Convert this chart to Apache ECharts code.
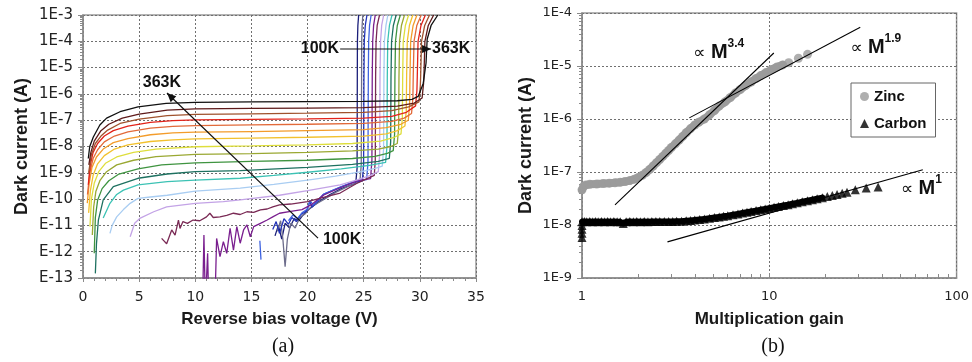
<!DOCTYPE html>
<html><head><meta charset="utf-8">
<script src="https://cdn.jsdelivr.net/npm/echarts@6/dist/echarts.min.js"></script>
<style>html,body{margin:0;padding:0;background:#fff}#c{width:972px;height:362px}</style>
</head><body><div id="c"></div>
<script>
// ================= DATA =================
// Panel (a): dark current (A) vs reverse bias voltage (V); one curve per temperature, 100K (00) ... 363K (19)
const curve00 = [[17.1,4e-12],[17.4,1e-11],[17.7,3e-12],[18.0,1.2e-11],[18.4,8e-12],[18.8,1.8e-11],[19.2,1.5e-11],[19.6,2.5e-11],[20.1,4e-11],[21,8e-11],[22,1.5e-10],[23,2.5e-10],[24.29,4e-10],[24.41,1.5e-9],[24.43,4.5e-6],[24.44,1e-4],[24.48,4e-4],[24.55,1e-3]];
const curve01 = [[17.3,6e-12],[17.6,1.5e-11],[17.8,3e-12],[18.0,2.7e-13],[18.2,3e-12],[18.5,1.2e-11],[18.9,8e-12],[19.3,2e-11],[19.8,2.8e-11],[20.3,5e-11],[21.5,1e-10],[22.5,1.8e-10],[23.7,3.2e-10],[24.66,4.5e-10],[24.78,2e-9],[24.81,4.5e-6],[24.82,1e-4],[24.86,4e-4],[24.92,1e-3]];
const curve02 = [[16.9,7e-12],[17.2,1.4e-11],[17.5,5e-12],[17.9,1.8e-11],[18.3,1.1e-11],[18.6,2e-11],[19.0,1.4e-11],[19.4,2.6e-11],[19.9,3.5e-11],[20.2,8e-11],[20.4,5e-11],[21.4,1.5e-10],[22.9,2.8e-10],[24.1,4.5e-10],[24.87,4.8e-10],[24.99,2e-9],[25.02,4.5e-6],[25.05,1e-4],[25.14,4e-4],[25.29,1e-3]];
const curve03 = [[15.75,2.6e-12],[15.85,5e-13],[15.9,'-'],[18.3,1.5e-11],[18.7,2.5e-11],[19.1,1.8e-11],[19.5,3e-11],[20.0,4.2e-11],[20.2,9e-11],[20.5,6e-11],[21.5,1.6e-10],[23.0,3e-10],[24.5,5e-10],[25.26,5.5e-10],[25.38,2.5e-9],[25.41,4.5e-6],[25.44,1e-4],[25.52,4e-4],[25.66,1e-3]];
const curve04 = [[10.65,1e-14],[10.77,4.3e-12],[10.9,1e-14],[11.05,1e-14],[11.1,8.7e-13],[11.2,1e-14],[11.75,1e-14],[11.9,3.2e-12],[12.2,6.5e-13],[12.5,2.4e-12],[12.8,8.7e-13],[13.1,7.8e-12],[13.4,1.15e-12],[13.7,9e-12],[14.0,2.1e-12],[14.3,6.7e-12],[14.6,1.05e-11],[14.9,3.7e-12],[15.2,9e-12],[15.8,1.2e-11],[16.4,1.6e-11],[16.9,2.1e-11],[17.5,2.9e-11],[18.5,3.4e-11],[19.5,4e-11],[20.3,6e-11],[21.4,1.4e-10],[22.9,2.7e-10],[24.5,5e-10],[25.61,6e-10],[25.73,3e-9],[25.76,4.5e-6],[25.8,1e-4],[25.88,4e-4],[26.03,1e-3]];
const curve05 = [[7.0,3.2e-12],[7.45,2e-12],[7.9,6.7e-12],[8.2,4.3e-12],[8.5,1.6e-11],[8.64,7.7e-12],[8.9,1.4e-11],[9.3,1.2e-11],[9.8,1.6e-11],[10.4,1.5e-11],[11.0,2.1e-11],[11.3,2.9e-11],[11.6,2e-11],[12.2,2.1e-11],[12.8,2.4e-11],[13.4,2.9e-11],[14.0,2.6e-11],[14.6,3.3e-11],[15.2,3.1e-11],[15.8,3.9e-11],[16.4,4.2e-11],[16.9,5.1e-11],[17.5,6e-11],[18.5,6.5e-11],[20.0,8e-11],[21.5,1.2e-10],[22.9,1.7e-10],[24.4,4e-10],[25.3,6e-10],[25.94,8e-10],[26.03,3e-9],[26.06,4.5e-6],[26.1,1e-4],[26.2,4e-4],[26.41,1e-3]];
const curve06 = [[4.2,3.7e-12],[4.6,1.2e-11],[5.1,1.9e-11],[6.3,3.3e-11],[7.45,5.1e-11],[10,6.9e-11],[12.5,8e-11],[14,9.3e-11],[17.5,1.4e-10],[20,2.1e-10],[22.9,3.5e-10],[24.5,5.5e-10],[25.6,8e-10],[26.3,1.1e-9],[26.42,5e-9],[26.45,4.5e-6],[26.5,1e-4],[26.6,4e-4],[26.78,1e-3]];
const curve07 = [[2.4,5e-12],[2.6,1e-11],[3.0,2.1e-11],[3.6,4e-11],[4.2,6.9e-11],[4.9,1.07e-10],[6.0,1.2e-10],[7.5,1.4e-10],[10,2e-10],[12,2.3e-10],[14,2.6e-10],[17,3.6e-10],[20,5.3e-10],[22.5,7.5e-10],[24.8,1.1e-9],[26.1,1.5e-9],[26.65,1.8e-9],[26.77,8e-9],[26.8,4.5e-6],[26.84,1e-4],[26.98,4e-4],[27.15,1e-3]];
const curve08 = [[1.8,1.9e-11],[2.4,6.9e-11],[3.0,1.5e-10],[3.6,2.2e-10],[4.9,3.5e-10],[7.5,4.6e-10],[10,5.3e-10],[14,6.2e-10],[17,8e-10],[20,1.05e-9],[23,1.4e-9],[25.5,1.9e-9],[26.95,2.5e-9],[27.07,1e-8],[27.1,4.5e-6],[27.14,1e-4],[27.29,4e-4],[27.52,1e-3]];
const curve09 = [[1.1,1.5e-13],[1.2,2e-12],[1.37,1.6e-11],[1.8,9.3e-11],[2.7,3e-10],[4.9,6.2e-10],[7.5,9e-10],[10,1.1e-9],[14,1.2e-9],[20,1.6e-9],[24,2.1e-9],[26.3,2.7e-9],[27.28,3.5e-9],[27.4,1.5e-8],[27.43,4.5e-6],[27.48,1e-4],[27.64,4e-4],[27.89,1e-3]];
const curve10 = [[1.0,8.7e-13],[1.1,2e-11],[1.3,9e-11],[1.7,2.5e-10],[2.3,5e-10],[3.2,9e-10],[4.9,1.4e-9],[7,2e-9],[10,2.4e-9],[15,2.7e-9],[20,3e-9],[24,3.5e-9],[26,4.2e-9],[27.1,5.5e-9],[27.63,7e-9],[27.75,3e-8],[27.78,4.5e-6],[27.83,1e-4],[27.99,4e-4],[28.26,1e-3]];
const curve11 = [[0.83,4.3e-12],[0.95,5e-11],[1.15,2e-10],[1.5,5e-10],[2.1,1.1e-9],[3,2e-9],[4.5,3e-9],[6.5,4.1e-9],[10,5e-9],[15,5.4e-9],[20,6e-9],[24,6.8e-9],[26.3,8e-9],[27.4,1e-8],[27.99,1.3e-8],[28.11,5e-8],[28.14,4.5e-6],[28.19,1e-4],[28.36,4e-4],[28.63,1e-3]];
const curve12 = [[0.62,9e-12],[0.75,1e-10],[1.0,4e-10],[1.4,1.1e-9],[2,2.3e-9],[3,4e-9],[4.5,6e-9],[6.5,8e-9],[10,9.8e-9],[15,1.05e-8],[20,1.15e-8],[24,1.3e-8],[26.5,1.6e-8],[27.7,2.2e-8],[28.32,3e-8],[28.44,1.2e-7],[28.47,4.5e-6],[28.52,1e-4],[28.71,4e-4],[29.0,1e-3]];
const curve13 = [[0.5,3e-11],[0.65,2e-10],[0.9,8e-10],[1.3,2.2e-9],[1.9,4.5e-9],[2.8,8e-9],[4,1.15e-8],[6,1.55e-8],[8,1.8e-8],[10,1.95e-8],[15,2.1e-8],[20,2.25e-8],[25,2.5e-8],[27,3e-8],[28,4e-8],[28.67,6e-8],[28.79,2.4e-7],[28.82,4.5e-6],[28.88,1e-4],[29.07,4e-4],[29.37,1e-3]];
const curve14 = [[0.38,7e-11],[0.55,4e-10],[0.8,1.6e-9],[1.2,4e-9],[1.8,8e-9],[2.7,1.4e-8],[4,2e-8],[6,2.8e-8],[8,3.3e-8],[10,3.5e-8],[15,3.7e-8],[20,4e-8],[25,4.4e-8],[27,5.2e-8],[28.3,7e-8],[28.97,1e-7],[29.09,4e-7],[29.12,4.5e-6],[29.18,1e-4],[29.4,4e-4],[29.74,1e-3]];
const curve15 = [[0.4,1.5e-10],[0.6,1e-9],[0.9,3.5e-9],[1.3,7.5e-9],[1.9,1.5e-8],[2.8,2.5e-8],[4,3.6e-8],[6,5e-8],[8,5.8e-8],[10,6.2e-8],[15,6.6e-8],[20,7e-8],[25,7.6e-8],[27.5,9e-8],[28.6,1.2e-7],[29.26,1.8e-7],[29.38,7e-7],[29.41,4.5e-6],[29.48,1e-4],[29.73,4e-4],[30.12,1e-3]];
const curve16 = [[0.47,3.5e-10],[0.65,2e-9],[0.9,6e-9],[1.3,1.3e-8],[1.9,2.5e-8],[2.7,4e-8],[4,6e-8],[6,8.3e-8],[8,9.6e-8],[10,1.02e-7],[15,1.08e-7],[20,1.12e-7],[25,1.2e-7],[27.5,1.4e-7],[28.8,2e-7],[29.62,3.5e-7],[29.74,1.4e-6],[29.77,4.5e-6],[29.84,1e-4],[30.1,4e-4],[30.49,1e-3]];
const curve17 = [[0.5,1e-9],[0.75,5e-9],[1.1,1.3e-8],[1.6,2.5e-8],[2.2,4.2e-8],[3.3,7.5e-8],[5,1.1e-7],[7.5,1.5e-7],[10,1.66e-7],[15,1.75e-7],[20,1.85e-7],[25,2e-7],[27.5,2.3e-7],[29,3.2e-7],[29.92,5e-7],[30.04,2e-6],[30.07,4.5e-6],[30.15,1e-4],[30.43,4e-4],[30.86,1e-3]];
const curve18 = [[0.52,2e-9],[0.7,6e-9],[1.0,1.6e-8],[1.6,4e-8],[2.3,7e-8],[3.5,1.2e-7],[5,1.7e-7],[7.5,2.4e-7],[10,2.7e-7],[15,2.8e-7],[20,2.9e-7],[25,3e-7],[28,3.4e-7],[29.5,4.5e-7],[30.2,7e-7],[30.33,2.5e-6],[30.36,4.5e-6],[30.45,1e-4],[30.75,4e-4],[31.23,1e-3]];
const curve19 = [[0.47,3.5e-9],[0.6,1e-8],[0.92,2.3e-8],[1.5,6.6e-8],[2.1,1.2e-7],[3.3,2.1e-7],[4.9,3.2e-7],[7.4,4.4e-7],[10,4.8e-7],[15,5e-7],[20,5.1e-7],[25,5.2e-7],[28,5.5e-7],[29.3,6.2e-7],[29.85,8e-7],[30.3,2.5e-6],[30.55,1.5e-5],[30.65,1.2e-4],[31.0,4e-4],[31.6,1e-3]];

// Panel (b): dark current (A) vs multiplication gain
const zincGain = [1.0,1.02,1.05,1.1,1.2,1.3,1.4,1.5,1.6,1.7,1.8,1.9,2.0,2.1,2.2,2.3,2.4,2.5,2.6,2.7,2.8,2.9,3.0,3.15,3.3,3.45,3.6,3.8,4.0,4.2,4.5,4.8,5.1,5.4,5.8,6.2,6.6,7.0,7.5,8.0,8.5,9.0,9.6,10.3,11.0,11.8,12.7,14.3,16.0];
const zincCurrent = [4.6e-8,5.4e-8,5.7e-8,5.85e-8,5.95e-8,6.05e-8,6.15e-8,6.25e-8,6.4e-8,6.6e-8,6.9e-8,7.3e-8,7.9e-8,8.7e-8,9.8e-8,1.12e-7,1.3e-7,1.5e-7,1.72e-7,1.97e-7,2.25e-7,2.55e-7,2.9e-7,3.4e-7,4e-7,4.7e-7,5.5e-7,6.6e-7,7.7e-7,8.7e-7,1e-6,1.2e-6,1.45e-6,1.75e-6,2.1e-6,2.55e-6,3.1e-6,3.6e-6,4.3e-6,5e-6,5.8e-6,6.6e-6,7.5e-6,8.6e-6,9.6e-6,1.05e-5,1.15e-5,1.4e-5,1.66e-5];
const carbonGain = [1,1,1,1,1,1.03,1.06,1.1,1.14,1.18,1.22,1.27,1.32,1.37,1.42,1.48,1.54,1.6,1.66,1.72,1.8,1.88,1.96,2.05,2.15,2.25,2.36,2.48,2.6,2.75,2.9,3.05,3.2,3.4,3.6,3.8,4.0,4.25,4.5,4.8,5.1,5.4,5.7,6.0,6.4,6.8,7.2,7.6,8.0,8.5,9.0,9.5,10,10.6,11.2,11.9,12.6,13.3,14.1,15,16,17,18,19.2,20.4,21.7,23,24.5,26,28.8,32.9,38.1];
const carbonCurrent = [5.8e-9,7e-9,8.3e-9,9.8e-9,1.15e-8,1.17e-8,1.15e-8,1.16e-8,1.15e-8,1.16e-8,1.15e-8,1.16e-8,1.15e-8,1.16e-8,1.15e-8,1.16e-8,1.15e-8,1.15e-8,1.07e-8,1.15e-8,1.16e-8,1.15e-8,1.16e-8,1.15e-8,1.16e-8,1.15e-8,1.16e-8,1.16e-8,1.16e-8,1.17e-8,1.17e-8,1.17e-8,1.18e-8,1.18e-8,1.2e-8,1.22e-8,1.24e-8,1.27e-8,1.3e-8,1.34e-8,1.38e-8,1.42e-8,1.46e-8,1.5e-8,1.56e-8,1.62e-8,1.68e-8,1.74e-8,1.8e-8,1.87e-8,1.94e-8,2.01e-8,2.08e-8,2.16e-8,2.24e-8,2.33e-8,2.42e-8,2.52e-8,2.62e-8,2.74e-8,2.87e-8,3e-8,3.13e-8,3.28e-8,3.44e-8,3.6e-8,3.78e-8,3.97e-8,4.17e-8,4.6e-8,5e-8,5.2e-8];
// power-law guide lines (gain, current) end points
const fitM34 = [[1.5,2.4e-8],[10.57,1.76e-5]];
const fitM19 = [[3.74,1.05e-6],[30.6,5.4e-5]];
const fitM1 = [[2.86,4.8e-9],[66,1.1e-7]];

// tick labels
const leftXTickLabels = ['0','5','10','15','20','25','30','35'];
const leftYTickLabels = ['E-13','E-12','E-11','E-10','1E-9','1E-8','1E-7','1E-6','1E-5','1E-4','1E-3'];
const rightXTickLabels = ['1','10','100'];
const rightYTickLabels = ['1E-9','1E-8','1E-7','1E-6','1E-5','1E-4'];

// ================= STYLE / LAYOUT =================
const leftCurves = [curve00,curve01,curve02,curve03,curve04,curve05,curve06,curve07,curve08,curve09,curve10,curve11,curve12,curve13,curve14,curve15,curve16,curve17,curve18,curve19];
const curveColors = ['#1b1f7a','#6d6d8c','#2233b8','#3f63e0','#7a1f8f','#7a2a55','#c3a3e6','#a9cdf2','#3cc2b4','#1e7160','#3f9440','#9aa832','#dede3c','#f2c12e','#f39c2b','#e26a3a','#e2231a','#a0522d','#5e1a1a','#111111'];

function logMinorTicks(e0, e1){ const v=[]; for(let e=e0;e<e1;e++){ for(let m=2;m<10;m++) v.push(m*Math.pow(10,e)); } return v; }

const axisGray = '#8a8a8a';
const gridLine = {show:true, lineStyle:{color:'#707070', width:1, type:[2,2]}};
const tickFont = 'DejaVu Sans';
const titleStyle = {fontWeight:'bold', fontSize:18, fontFamily:'Liberation Sans', color:'#1a1a1a'};
const tickOnly = (extra)=>Object.assign({axisLine:{show:false}, axisLabel:{show:false}, splitLine:{show:false}, silent:true}, extra);

const chart = echarts.init(document.getElementById('c'), null, {renderer:'canvas'});

const zincPts = zincGain.map((g,i)=>[g, zincCurrent[i]]);
const carbonPts = carbonGain.map((g,i)=>[g, carbonCurrent[i]]);

const series = leftCurves.map((d,i)=>({
  type:'line', xAxisIndex:0, yAxisIndex:0, data:d, symbol:'none', showSymbol:false,
  lineStyle:{width:1.3, color:curveColors[i]}, silent:true, animation:false, clip:true
}));
// dense bands under the markers (same data)
series.push({type:'line', xAxisIndex:1, yAxisIndex:1, data:zincPts.slice(0,46), symbol:'none', lineStyle:{color:'#9b9b9b', width:8, cap:'round', join:'round'}, silent:true, animation:false, z:2});
series.push({type:'line', xAxisIndex:1, yAxisIndex:1, data:carbonPts.slice(4,64), symbol:'none', lineStyle:{color:'#000', width:6, cap:'round', join:'round'}, silent:true, animation:false, z:2});
series.push({name:'Zinc', type:'scatter', xAxisIndex:1, yAxisIndex:1, symbol:'circle', symbolSize:9,
  itemStyle:{color:'#9b9b9b'}, data: zincPts, animation:false, silent:true, z:3});
series.push({name:'Carbon', type:'scatter', xAxisIndex:1, yAxisIndex:1, symbol:'triangle', symbolSize:9,
  itemStyle:{color:'#000'}, data: carbonPts, animation:false, silent:true, z:3});
[fitM34, fitM19, fitM1].forEach(f=>series.push({type:'line', xAxisIndex:1, yAxisIndex:1, data:f, symbol:'none',
  lineStyle:{color:'#000', width:1.1}, animation:false, silent:true, z:5}));

chart.setOption({
  animation:false,
  backgroundColor:'#fff',
  grid:[
    {left:83, top:15, width:393, height:263, show:true, borderColor:'#9a9a9a', borderWidth:1.5, containLabel:false},
    {left:582, top:13, width:377, height:265, show:true, borderColor:'#9a9a9a', borderWidth:1.5, containLabel:false}
  ],
  legend:{data:[{name:'Zinc', icon:'circle'},{name:'Carbon', icon:'triangle'}], orient:'vertical', left:851, top:83,
    itemWidth:9, itemHeight:9, itemGap:12, padding:[6,9,6,9], borderColor:'#666', borderWidth:1, backgroundColor:'#fff',
    textStyle:{fontWeight:'bold', fontSize:15, fontFamily:'Liberation Sans', color:'#111'}, selectedMode:false},
  xAxis:[
    {type:'value', gridIndex:0, min:0, max:35, interval:5,
     axisLine:{show:true, onZero:false, lineStyle:{color:axisGray, width:1.5}},
     axisTick:{show:true, length:4, lineStyle:{color:axisGray}},
     minorTick:{show:true, splitNumber:5, length:3, lineStyle:{color:axisGray}},
     splitLine:gridLine,
     axisLabel:{fontSize:14, fontFamily:tickFont, color:'#222', margin:12, formatter:(v)=>leftXTickLabels[Math.round(v/5)]},
     name:'Reverse bias voltage (V)', nameLocation:'middle', nameGap:33, nameTextStyle:Object.assign({}, titleStyle, {fontSize:17})},
    {type:'log', logBase:10, gridIndex:1, min:1, max:100, interval:1,
     axisLine:{show:true, onZero:false, lineStyle:{color:axisGray, width:1.5}},
     axisTick:{show:true, inside:true, length:5, lineStyle:{color:axisGray}},
     splitLine:gridLine,
     axisLabel:{fontSize:13, fontFamily:tickFont, color:'#222', margin:12, formatter:(v)=>rightXTickLabels[Math.round(Math.log10(v))]},
     name:'Multiplication gain', nameLocation:'middle', nameGap:33, nameTextStyle:Object.assign({}, titleStyle, {fontSize:17})},
    tickOnly({type:'log', logBase:10, gridIndex:1, min:1, max:100, position:'bottom',
     axisTick:{show:true, inside:true, length:4, lineStyle:{color:axisGray}, customValues:logMinorTicks(0,2)}})
  ],
  yAxis:[
    {type:'log', logBase:10, gridIndex:0, min:1e-13, max:1e-3, interval:1,
     axisLine:{show:true, onZero:false, lineStyle:{color:axisGray, width:1.5}},
     axisTick:{show:true, length:5, lineStyle:{color:axisGray}},
     splitLine:gridLine,
     axisLabel:{fontSize:15, fontFamily:tickFont, color:'#222', margin:10, formatter:(v)=>leftYTickLabels[Math.round(Math.log10(v))+13]},
     name:'Dark current (A)', nameLocation:'middle', nameGap:52, nameTextStyle:titleStyle},
    {type:'log', logBase:10, gridIndex:1, min:1e-9, max:1e-4, interval:1,
     axisLine:{show:true, onZero:false, lineStyle:{color:axisGray, width:1.5}},
     axisTick:{show:true, length:5, lineStyle:{color:axisGray}},
     splitLine:gridLine,
     axisLabel:{fontSize:13, fontFamily:tickFont, color:'#222', margin:10, formatter:(v)=>rightYTickLabels[Math.round(Math.log10(v))+9]},
     name:'Dark current (A)', nameLocation:'middle', nameGap:47, nameTextStyle:titleStyle},
    tickOnly({type:'log', logBase:10, gridIndex:0, min:1e-13, max:1e-3, position:'left',
     axisTick:{show:true, length:3, lineStyle:{color:axisGray}, customValues:logMinorTicks(-13,-3)}}),
    tickOnly({type:'log', logBase:10, gridIndex:1, min:1e-9, max:1e-4, position:'left',
     axisTick:{show:true, length:3, lineStyle:{color:axisGray}, customValues:logMinorTicks(-9,-4)}})
  ],
  series: series
});

// ================= ANNOTATIONS (anchored in data coordinates) =================
const leftLabels = [
  {text:'363K', at:[7.03,2.6e-6], align:'center'},
  {text:'100K', at:[21.37,2.8e-12], align:'left'},
  {text:'100K', at:[22.8,5.1e-5], align:'right'},
  {text:'363K', at:[31.08,5.1e-5], align:'left'}
];
const leftArrows = [ [[20.93,3.3e-12],[7.48,1.08e-6]], [[22.9,5.1e-5],[31.0,5.1e-5]] ];
const rightLabels = [
  {sup:'3.4', at:[3.93,2.0e-5]},
  {sup:'1.9', at:[27.1,2.49e-5]},
  {sup:'1', at:[50.5,5.44e-8]}
];

const g = [];
const pL = (p)=>chart.convertToPixel({xAxisIndex:0, yAxisIndex:0}, p);
const pR = (p)=>chart.convertToPixel({xAxisIndex:1, yAxisIndex:1}, p);
leftLabels.forEach(l=>{ const p=pL(l.at); g.push({type:'text', x:p[0], y:p[1], z:100,
  style:{text:l.text, fill:'#111', font:'bold 16px "Liberation Sans", Arial', align:l.align, verticalAlign:'middle'}}); });
leftArrows.forEach(a=>{ const s=pL(a[0]), e=pL(a[1]);
  g.push({type:'line', z:100, shape:{x1:s[0], y1:s[1], x2:e[0], y2:e[1]}, style:{stroke:'#111', lineWidth:1.2}});
  const ang=Math.atan2(e[1]-s[1], e[0]-s[0]); const L=9, W=4;
  const bx=e[0]-L*Math.cos(ang), by=e[1]-L*Math.sin(ang);
  g.push({type:'polygon', z:100, shape:{points:[[e[0],e[1]],[bx+W*Math.sin(ang), by-W*Math.cos(ang)],[bx-W*Math.sin(ang), by+W*Math.cos(ang)]]}, style:{fill:'#111'}});
});
rightLabels.forEach(l=>{ const p=pR(l.at); g.push({type:'text', x:p[0], y:p[1], z:100,
  style:{text:'{a|∝ }{m|M}{s|'+l.sup+'}', verticalAlign:'middle', align:'left',
    rich:{a:{fontSize:17, fontFamily:'DejaVu Sans', fill:'#111', lineHeight:24, verticalAlign:'bottom'},
          m:{fontSize:20, fontWeight:'bold', fontFamily:'Liberation Sans', fill:'#111', lineHeight:24, verticalAlign:'bottom'},
          s:{fontSize:12, fontWeight:'bold', fontFamily:'Liberation Sans', fill:'#111', lineHeight:24, verticalAlign:'top'}}}}); });
g.push({type:'text', x:283, y:347, style:{text:'(a)', font:'20px "Liberation Serif", serif', fill:'#111', align:'center', verticalAlign:'middle'}});
g.push({type:'text', x:773, y:347, style:{text:'(b)', font:'20px "Liberation Serif", serif', fill:'#111', align:'center', verticalAlign:'middle'}});
chart.setOption({graphic:g});
</script></body></html>
